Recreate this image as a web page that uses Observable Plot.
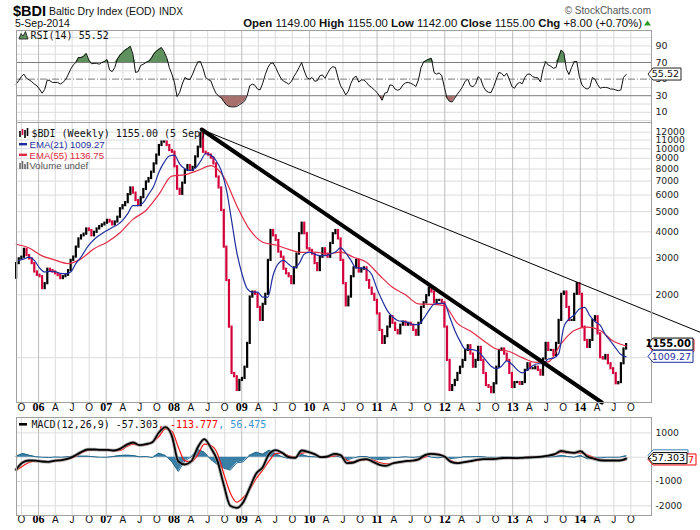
<!DOCTYPE html>
<html><head><meta charset="utf-8">
<script src="https://cdn.jsdelivr.net/npm/d3@7"></script>
<script src="https://cdn.jsdelivr.net/npm/@observablehq/plot@0.6"></script>
<style>
html,body{margin:0;padding:0;background:#fff;}
#wrap{position:relative;width:700px;height:530px;overflow:hidden;background:#fff;}
</style></head><body><div id="wrap"></div>
<script>
// ---------- DATA ----------
const priceStart = "2005-09-02";   // first weekly bar, biweekly sampling
const lastDay = "2014-09-05";
const firstOpen = 2400;
const closes = [2820,2970,3025,3300,3080,2970,2820,2570,2480,2440,
 2140,2260,2650,2610,2570,2520,2470,2390,2440,2480,
 2610,2920,3030,3380,3700,3830,3900,4130,4060,3830,
 3980,4130,4240,4320,4400,4540,4460,4320,4460,4700,
 5160,5340,5520,6030,6490,6130,5650,5340,5830,6380,
 6930,7200,7720,8460,9320,10360,10760,10760,10360,9800,
 9620,8200,6400,6050,6840,7865,8300,7865,8140,9140,
 10170,11850,9620,9460,9320,9020,8460,7320,6490,5064,
 3380,2340,1400,840,810,697,778,795,900,1170,
 1950,2060,2010,1740,1507,1800,2010,2920,4060,3830,
 3640,3200,3025,2650,2520,2440,2260,2690,3130,3920,
 4400,3920,3320,3260,3130,2820,2610,3025,3320,3130,
 3025,3520,3920,4060,3700,2920,2260,1770,1950,2440,
 2690,2920,2570,2650,2690,2340,2150,2010,1880,1620,
 1350,1170,1260,1400,1570,1460,1350,1300,1430,1480,
 1430,1460,1430,1350,1280,1460,1740,1830,1980,2150,
 2060,1830,1880,1880,1830,1400,970,697,735,778,
 840,900,970,1083,1140,1040,900,970,1120,970,
 840,735,720,680,750,900,1083,1100,1040,970,
 840,720,760,760,745,760,869,935,885,885,
 900,869,825,985,1170,1083,1083,1024,1170,1507,
 2010,2060,1740,1507,1507,2010,2260,2010,1400,1209,
 1120,1209,1507,1570,1300,1000,985,1024,935,885,
 840,750,760,935,1100,1155];
const rsi14 = [44,48,53,56,51,49,47,44,42,38,
 33,37.5,49,48,46,46,46,44,46,49,
 55,62,67,70,76,76,77.5,81,73,68.5,
 69,69,68,70,71,73.5,61,59,64,74,
 79,82,85,87,89.5,80,58,59,66.5,68,
 70,71.5,74.5,80,83.5,86,88,83,76,64,
 56,46,29,34,44,52,50,49.5,56,64,
 70.5,71,63,52,49.5,48,39.5,33,29.5,27.5,
 23,19,17,16.5,16.5,17,19,21,23.5,30,
 42,44,42.5,38,37,45,55.5,64,69,69.5,
 64,57,51,47.5,46,44,47,53,58,64,
 70,60,52,50,52,47.5,48,54,55,51,
 57,62.5,65,64,52,42,37,31,35.5,45,
 51.5,53.5,46.5,49,49,46,42,40,37,34,
 29.5,24.5,33,34,43,42.5,38,36.5,38,43,
 45.5,46,45,43.5,41,49,64,70.5,72.5,74,
 75,58,56,57.5,54,40,27,23,22.5,27,
 32,36,41,47.5,50,42,41,44,53,50,
 41,36,34,34,41,50,58,57,53.5,57,
 50,41,39,44,46,44.5,52,56,56,53,
 52,51.5,46.5,62,71,67,65.5,63,64,76,
 85,82,62,55.5,64,71,71,53,43,39.5,
 38,40,52,50,43.5,39,40,40,39.5,38,
 38,37,36,37,52,55.5];
// EMA(21): every 4 weeks, ending on the last bar
const ema21 = [2920,2970,3025,2920,2690,2570,2590,2580,2530,2520,
 2570,2820,3025,3320,3570,3770,3920,4060,4200,4320,
 4540,4890,5340,5340,5520,6050,6610,7720,8600,9230,
 9320,8460,8010,7865,8050,8690,9460,9320,8780,7865,
 6380,4540,3200,2520,2140,2060,2060,1950,1950,2480,
 2820,2920,2800,2690,2820,3130,3200,3130,3080,3080,
 3130,3200,3350,3170,2920,2690,2690,2650,2500,2140,
 1880,1680,1570,1507,1490,1470,1440,1440,1540,1680,
 1800,1820,1820,1570,1350,1200,1100,1095,1085,1040,
 970,910,885,910,965,930,875,845,875,915,
 935,935,985,995,1045,1400,1530,1600,1710,1740,
 1590,1490,1430,1290,1200,1110,1035,1009];
// EMA(55): every 10 weeks from the first bar
const ema55 = [3490,3350,3070,2930,2820,2970,3320,3570,3960,4590,
 5064,6050,7400,7510,7865,8300,7320,5340,4100,3570,
 3460,3300,3190,3200,3140,3200,3025,2860,2480,2170,
 2000,1810,1800,1770,1460,1340,1209,1100,1070,1000,
 950,955,1170,1350,1400,1350,1200,1137];
// MACD(12,26,9): every 5 weeks from the first bar
const macdLine = [-508,-218,-136,-143,-177,-191,-143,-122,-60,56,
 207,317,317,303,303,276,344,509,605,495,
 536,619,1017,1236,879,-177,-300,-163,413,742,
 385,-136,-1137,-2002,-2083,-1851,-1261,-671,-411,139,
 289,180,0,-26,276,221,125,0,29,139,
 84,-246,-218,-108,-81,-191,-314,-355,-259,-204,
 -163,-143,-88,84,139,111,29,-191,-246,-204,
 -163,-108,-81,-81,-67,-33,-26,-40,-26,-12,
 0,22,63,125,262,207,180,248,29,-60,
 -129,-136,-136,-136,-57];
const macdSignal = [-547,-369,-218,-163,-177,-177,-150,-122,-81,15,
 166,276,303,303,303,248,276,427,536,481,
 509,632,852,1167,1071,413,-150,-177,97,536,
 481,166,-685,-1468,-1851,-1659,-1343,-877,-534,-150,
 152,166,56,15,166,193,111,15,0,56,
 84,-136,-191,-136,-108,-122,-218,-273,-246,-198,
 -177,-136,-101,0,139,139,29,-136,-218,-218,
 -177,-136,-95,-67,-54,-40,-26,-26,-12,0,
 15,29,56,104,193,180,180,180,97,-12,
 -95,-136,-136,-136,-114];
// trend lines drawn on the chart
const trendThickDates = ["2008-05-30","2014-04-27"];
const trendThickValues = [12360, 610];
const trendThinDates = ["2008-05-30","2015-10-12"];
const trendThinValues = [12360, 1320];
// tick labels
const priceGridValues = [1000,2000,3000,4000,5000,6000,7000,8000,9000,10000,11000,12000];
const priceTickLabels = [2000,3000,4000,5000,6000,7000,8000,9000,10000,11000,12000];
const rsiTickLabels = [90,70,50,30,10];
const rsiLightGrid = [0,10,20,40,60,80,90,100];
const macdGridValues = [1000,0,-1000,-2000];
const macdTickLabels = [1000,-1000,-2000];
const quarterLetters = ["", "A", "J", "O"];
const quoteLabels = ["Open","High","Low","Close","Chg"];
const quoteValues = ["1149.00","1155.00","1142.00","1155.00","+8.00 (+0.70%)"];

// ---------- derived tables ----------
const DAY = 864e5;
const t0 = new Date(priceStart + "T00:00:00Z"), tEnd = new Date(lastDay + "T00:00:00Z");
const bars = closes.map((c,i)=>({date:new Date(+t0 + i*14*DAY), open: i ? closes[i-1] : firstOpen, close:c}));
const upBars = bars.filter(d=>d.close>=d.open), downBars = bars.filter(d=>d.close<d.open);
const rsiData = rsi14.map((v,i)=>({date:bars[i].date, v}));
const ema21Data = ema21.map((v,j)=>({date:new Date(+tEnd - (ema21.length-1-j)*28*DAY), v}));
const ema55Data = ema55.map((v,k)=>({date:new Date(+t0 + k*70*DAY), v}));
const macdData = macdLine.map((v,m)=>({date:new Date(+t0 + m*35*DAY), macd:v, signal:macdSignal[m], hist:v-macdSignal[m]}));
const thick = trendThickDates.map((d,i)=>({date:new Date(d+"T00:00:00Z"), v:trendThickValues[i]}));
const thin = trendThinDates.map((d,i)=>({date:new Date(d+"T00:00:00Z"), v:trendThinValues[i]}));
const quarters = d3.utcMonth.every(3).range(new Date(Date.UTC(2005,9,1)), new Date(Date.UTC(2014,10,1)));
const yearTicks = quarters.filter(d=>d.getUTCMonth()===0);
const qTicks = quarters.filter(d=>d.getUTCMonth()!==0);
const xDomain = [new Date(Date.UTC(2005,8,4)), new Date(Date.UTC(2015,0,20))];

const BAR_RED = "#d4003b", NAVY = "#1f2e9e", EMA_RED = "#e32b45";
const common = {width:700, marginLeft:16, marginRight:49,
  x:{type:"utc", domain:xDomain, axis:null},
  style:{background:"transparent", fontFamily:"DejaVu Sans", fontSize:"9px", color:"#222", overflow:"visible"}};
const gridMarks = () => [
  Plot.ruleX(qTicks, {x:d=>d, stroke:"#dcdcdc"}),
  Plot.ruleX(yearTicks, {x:d=>d, stroke:"#bdbdbd"})
];
const xLabelMarks = (dy) => [
  Plot.text(qTicks, {x:d=>d, frameAnchor:"bottom", dy, text:d=>quarterLetters[d.getUTCMonth()/3], fontFamily:"Liberation Sans", fontSize:10, fill:"#111"}),
  Plot.text(yearTicks, {x:d=>d, frameAnchor:"bottom", dy, text:d=>String(d.getUTCFullYear()).slice(2), fontFamily:"Liberation Serif", fontWeight:"bold", fontSize:12, fill:"#000"})
];

const wrap = document.getElementById("wrap");
function place(svg, top){ svg.style.position="absolute"; svg.style.left="0px"; svg.style.top=top+"px"; wrap.appendChild(svg); return svg; }

// ---------- RSI panel ----------
const RSI_TOP = 29;
const rsiPlot = Plot.plot({...common, height:93, marginTop:1, marginBottom:0,
  y:{domain:[-2.3,108.6], axis:null},
  marks:[
    Plot.ruleY(rsiLightGrid, {y:d=>d, stroke:"#dcdcdc"}),
    ...gridMarks(),
    Plot.areaY(rsiData, {x:"date", y1:()=>70, y2:d=>Math.max(70,d.v), fill:"#5f915f"}),
    Plot.areaY(rsiData, {x:"date", y1:()=>30, y2:d=>Math.min(30,d.v), fill:"#a8706c"}),
    Plot.ruleY([30,70], {y:d=>d, stroke:"#7a7a7a"}),
    Plot.ruleY([50], {y:d=>d, stroke:"#7a7a7a", strokeDasharray:"7,2,1,2"}),
    Plot.line(rsiData, {x:"date", y:"v", stroke:"#111", strokeWidth:1}),
    Plot.text(rsiTickLabels, {y:d=>d, frameAnchor:"right", dx:4, textAnchor:"start", text:d=>String(d), fontSize:9.5, fill:"#222"}),
    Plot.frame({stroke:"#a0a0a0"})
  ]});
place(rsiPlot, RSI_TOP);

// ---------- Price panel ----------
const PRICE_TOP = 122;
const pricePlot = Plot.plot({...common, height:295, marginTop:0, marginBottom:15,
  y:{type:"log", domain:[610,13350], axis:null},
  marks:[
    Plot.ruleY(priceGridValues, {y:d=>d, stroke:"#dcdcdc"}),
    ...gridMarks(),
    Plot.ruleX(downBars, {x:"date", y1:"open", y2:"close", stroke:BAR_RED, strokeWidth:2.2, strokeLinecap:"square"}),
    Plot.ruleX(upBars, {x:"date", y1:"open", y2:"close", stroke:"#000", strokeWidth:2.2, strokeLinecap:"square"}),
    Plot.line(ema55Data, {x:"date", y:"v", stroke:EMA_RED, strokeWidth:1.2, curve:"monotone-x"}),
    Plot.line(ema21Data, {x:"date", y:"v", stroke:NAVY, strokeWidth:1.2, curve:"monotone-x"}),
    Plot.line(thick, {x:"date", y:"v", stroke:"#000", strokeWidth:4}),
    Plot.line(thin, {x:"date", y:"v", stroke:"#000", strokeWidth:1}),
    Plot.text(priceTickLabels, {y:d=>d, frameAnchor:"right", dx:4, textAnchor:"start", text:d=>String(d), fontSize:9.2, fill:"#222"}),
    ...xLabelMarks(8),
    Plot.frame({stroke:"#a0a0a0"})
  ]});
place(pricePlot, PRICE_TOP);

// ---------- MACD panel ----------
const MACD_TOP = 417;
const macdPlot = Plot.plot({...common, height:113, marginTop:0, marginBottom:15,
  y:{domain:[-2399,1634], axis:null},
  marks:[
    Plot.ruleY(macdGridValues, {y:d=>d, stroke:"#dcdcdc"}),
    ...gridMarks(),
    Plot.areaY(macdData, {x:"date", y:"hist", fill:"#2f78a0", fillOpacity:0.95}),
    Plot.line(macdData, {x:"date", y:"hist", stroke:"#25688e", strokeWidth:1}),
    Plot.line(macdData, {x:"date", y:"signal", stroke:"#ff1010", strokeWidth:1.2, curve:"monotone-x"}),
    Plot.line(macdData, {x:"date", y:"macd", stroke:"#9a9a9a", strokeWidth:3.6, curve:"monotone-x", strokeOpacity:0.7}),
    Plot.line(macdData, {x:"date", y:"macd", stroke:"#000", strokeWidth:1.8, curve:"monotone-x"}),
    Plot.text(macdTickLabels, {y:d=>d, frameAnchor:"right", dx:4, textAnchor:"start", text:d=>String(d), fontSize:9.2, fill:"#222"}),
    ...xLabelMarks(7),
    Plot.frame({stroke:"#a0a0a0"})
  ]});
place(macdPlot, MACD_TOP);

// ---------- overlay: header, legends, value boxes ----------
const ov = d3.create("svg").attr("width",700).attr("height",530)
  .style("position","absolute").style("left","0px").style("top","0px")
  .attr("font-family","Liberation Sans, Arial, sans-serif");
ov.append("text").attr("x",13).attr("y",15.5).attr("font-weight","bold").attr("font-size",14.5).attr("fill","#000").text("$BDI");
ov.append("text").attr("x",49).attr("y",15).attr("font-size",10.5).attr("fill","#111").text("Baltic Dry Index (EOD)");
ov.append("text").attr("x",159).attr("y",15).attr("font-size",10).attr("fill","#111").text("INDX");
ov.append("text").attr("x",651).attr("y",14).attr("text-anchor","end").attr("font-size",10).attr("fill","#555").text("\u00A9 StockCharts.com");
ov.append("text").attr("x",15).attr("y",26.5).attr("font-size",10.5).attr("fill","#111").text("5-Sep-2014");
const q = ov.append("text").attr("x",642).attr("y",26.5).attr("text-anchor","end").attr("font-size",11.4).attr("fill","#111");
quoteLabels.forEach((lab,i)=>{
  q.append("tspan").attr("font-weight","bold").text((i?" ":"")+lab+" ");
  q.append("tspan").text(quoteValues[i]);
});
ov.append("path").attr("d","M644,25.5 L647.5,20.5 L651,25.5 Z").attr("fill","#2a9a2a");

const mono = "DejaVu Sans Mono, monospace";
// RSI legend
ov.append("path").attr("d","M19,39 L21,33.5 L23,36 L25.5,31.5 L28,39 Z").attr("fill","#5f915f").attr("stroke","#111").attr("stroke-width",0.8);
ov.append("text").attr("x",30.5).attr("y",39).attr("font-family",mono).attr("font-size",10).attr("fill","#111").text("RSI(14) 55.52");
// price legend
[[20,"#000",131,137],[22.5,BAR_RED,129,135],[25,"#000",130,138],[27.5,"#000",128,136]].forEach(([x,c,a,b])=>
  ov.append("line").attr("x1",x).attr("x2",x).attr("y1",a).attr("y2",b).attr("stroke",c).attr("stroke-width",1.6));
ov.append("text").attr("x",31.5).attr("y",137).attr("font-family",mono).attr("font-size",10).attr("fill","#111").text("$BDI (Weekly) 1155.00 (5 Sep)");
ov.append("rect").attr("x",19).attr("y",143).attr("width",8).attr("height",2.4).attr("fill",NAVY);
ov.append("text").attr("x",29.5).attr("y",148).attr("font-size",9.6).attr("fill",NAVY).text("EMA(21) 1009.27");
ov.append("rect").attr("x",19).attr("y",153.6).attr("width",8).attr("height",2.4).attr("fill",EMA_RED);
ov.append("text").attr("x",29.5).attr("y",158.6).attr("font-size",9.6).attr("fill",EMA_RED).text("EMA(55) 1136.75");
[[20,163,169],[22.5,161,169],[25,164,169],[27.5,162,169]].forEach(([x,a,b])=>
  ov.append("line").attr("x1",x).attr("x2",x).attr("y1",a).attr("y2",b).attr("stroke","#666").attr("stroke-width",1.6));
ov.append("text").attr("x",29.5).attr("y",169).attr("font-size",9.6).attr("fill","#555").text("Volume undef");
// MACD legend
ov.append("rect").attr("x",19).attr("y",423).attr("width",8).attr("height",2.6).attr("fill","#000");
const ml = ov.append("text").attr("x",31.5).attr("y",428).attr("font-family",mono).attr("font-size",10);
ml.append("tspan").attr("fill","#111").text("MACD(12,26,9) -57.303");
ml.append("tspan").attr("fill","#ff0000").text(", -113.777");
ml.append("tspan").attr("fill","#3b96d2").text(", 56.475");

function valueBox(yc, w, h, label, stroke, color, bold){
  const x0 = 648;
  ov.append("path").attr("d",`M${x0},${yc} L${x0+5},${yc-h/2} H${x0+w} V${yc+h/2} H${x0+5} Z`)
    .attr("fill","#fff").attr("stroke",stroke).attr("stroke-width",1);
  if (label) ov.append("text").attr("x",x0+w-2).attr("y",yc+3.4).attr("text-anchor","end")
    .attr("font-family","DejaVu Sans").attr("font-size",bold?10:9.5).attr("font-weight",bold?"bold":"normal")
    .attr("fill",color).text(label);
}
const ry = rsiPlot.scale("y"), py = pricePlot.scale("y"), my = macdPlot.scale("y");
valueBox(RSI_TOP + ry.apply(55.52), 33, 12, "55.52", "#222", "#111", false);
valueBox(PRICE_TOP + py.apply(1136.75), 46, 12, "", EMA_RED, EMA_RED, false);
valueBox(PRICE_TOP + py.apply(1155), 45, 12, "1155.00", "#000", "#000", true);
valueBox(PRICE_TOP + py.apply(1009.27), 45, 12, "1009.27", NAVY, NAVY, false);
valueBox(MACD_TOP + my.apply(56.475), 40, 11, "56.475", "#3b7fb0", "#3b7fb0", false);
valueBox(MACD_TOP + my.apply(-113.777), 48, 11, "-113.777", "#ff0000", "#ff0000", false);
valueBox(MACD_TOP + my.apply(-57.303), 39, 11, "-57.303", "#000", "#000", false);

wrap.appendChild(ov.node());
</script></body></html>
